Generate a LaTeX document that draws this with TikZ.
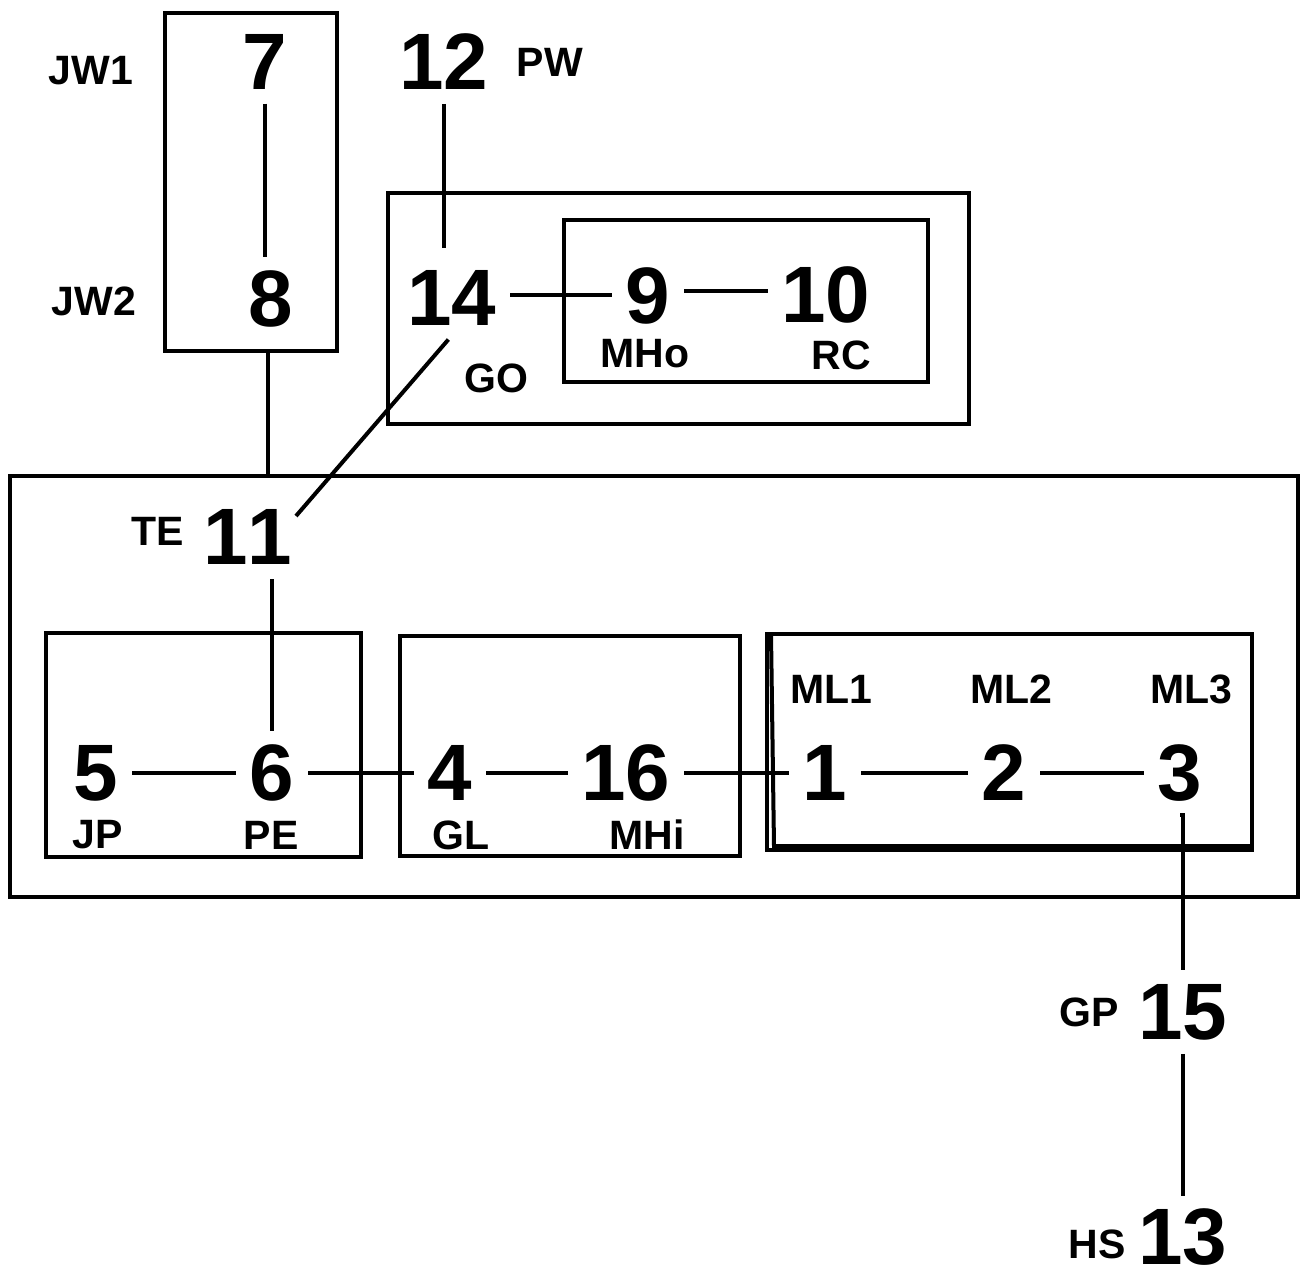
\documentclass[tikz,border=0pt]{standalone}
\usepackage{fontspec}
\setmainfont{Liberation Sans}
\begin{document}
\begin{tikzpicture}[x=1pt,y=-1pt,line width=4pt,
  num/.style={font=\fontsize{80}{80}\selectfont\bfseries,inner sep=12pt},
  lab/.style={font=\fontsize{41}{41}\selectfont\bfseries,inner sep=0pt},
  box/.style={draw,line width=4pt,inner sep=0pt}]
\useasboundingbox (0,0) rectangle (1307,1277);
% boxes
\node[box,minimum width=172,minimum height=338] (bJW) at (251,182) {};
\node[box,minimum width=581,minimum height=231] (bGO) at (678.5,308.5) {};
\node[box,minimum width=364,minimum height=162] (bMH) at (746,301) {};
\node[box,minimum width=1288,minimum height=421] (bTE) at (654,686.5) {};
\node[box,minimum width=315,minimum height=224] (bJP) at (203.5,745) {};
\node[box,minimum width=340,minimum height=220] (bGL) at (570,746) {};
\node[box,minimum width=485,minimum height=216] (bML) at (1009.5,742) {};
\draw (bML.north west) ++(6,2) -- ++(3,212) -- ++(476,0);
% numbers
\node[num] (n7) at (265,62) {7};
\node[num] (n12) at (444,62) {12};
\node[num] (n8) at (271,299) {8};
\node[num] (n14) at (452,298) {14};
\node[num] (n9) at (648,296) {9};
\node[num] (n10) at (826,295) {10};
\node[num] (n11) at (248,537) {1\kern0pt 1};
\node[num] (n5) at (96,773) {5};
\node[num] (n6) at (272,773) {6};
\node[num] (n4) at (450,773) {4};
\node[num] (n16) at (626,773) {16};
\node[num] (n1) at (825,773) {1};
\node[num] (n2) at (1004,773) {2};
\node[num] (n3) at (1180,773) {3};
\node[num] (n15) at (1183,1012) {15};
\node[num,inner sep=3pt] (n13) at (1183,1237) {13};
% labels
\node[lab] (lJW1) at (91,71) {JW1};
\node[lab] (lJW2) at (94,301) {JW2};
\node[lab] (lPW) at (550,62) {PW};
\node[lab] (lGO) at (496,378) {GO};
\node[lab] (lMHo) at (645,354) {MHo};
\node[lab] (lRC) at (841,355) {RC};
\node[lab] (lTE) at (158,531) {TE};
\node[lab] (lJP) at (98,835) {JP};
\node[lab] (lPE) at (271,835) {PE};
\node[lab] (lGL) at (461,835) {GL};
\node[lab] (lMHi) at (647,835) {MHi};
\node[lab] (lML1) at (831,689) {ML1};
\node[lab] (lML2) at (1011,689) {ML2};
\node[lab] (lML3) at (1191,689) {ML3};
\node[lab] (lGP) at (1089,1012) {GP};
\node[lab] (lHS) at (1097,1244) {HS};
% connectors
\draw (n7.south) -- (n7.south |- n8.north);
\draw (n12.south) -- ([yshift=8pt]n12.south |- n14.north);
\draw ([xshift=-3pt]n8.south |- bJW.south) -- ([xshift=-3pt]n8.south |- bTE.north);
\draw ([yshift=3pt]n14.east) -- ([yshift=3pt]n14.east -| n9.west);
\draw ([yshift=5pt]n9.east) -- ([yshift=5pt]n9.east -| n10.west);
\draw (n14.-95) -- ([xshift=48pt,yshift=21pt]n11.center);
\draw (n6.north) -- (n6.north |- n11.south);
\draw (n5) -- (n6);
\draw (n6) -- (n4);
\draw (n4) -- (n16);
\draw (n16) -- (n1);
\draw (n1) -- (n2);
\draw (n2) -- (n3);
\draw (n3.south) -- (n3.south -| n15.south) -- (n15.north);
\draw[shorten >=8pt] (n15) -- (n13);
\end{tikzpicture}
\end{document}
